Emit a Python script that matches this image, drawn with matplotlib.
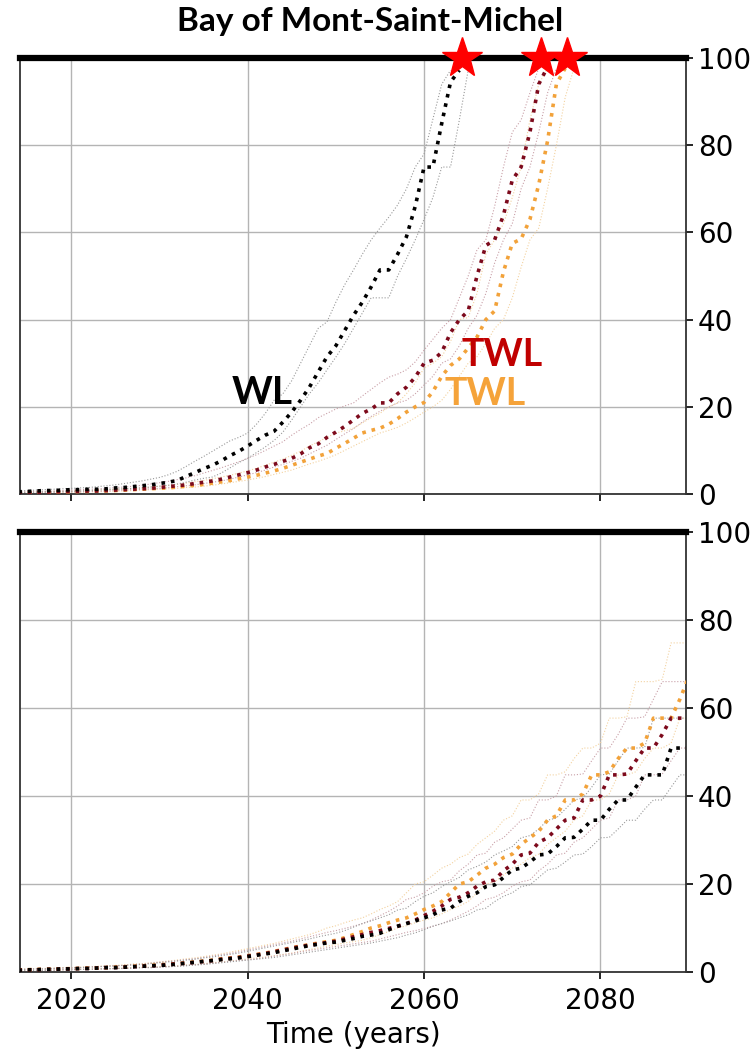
import numpy as np
import matplotlib
matplotlib.use("Agg")
import matplotlib.pyplot as plt

START_YEAR = 2014

# ---- top panel (yearly values from 2014) ----
top_wl_med = [0.5, 0.6, 0.7, 0.8, 0.8, 0.9,
              1.0, 1.0, 1.1, 1.1, 1.2, 1.4, 1.5, 1.7, 1.9, 2.1,
              2.4, 2.7, 3.1, 4.0, 4.9, 5.8, 6.6, 7.6, 8.8, 9.8,
              11.0, 12.3, 13.5, 14.4, 16.5, 18.8, 21.5, 24.5, 28.0, 31.5,
              34.0, 37.5, 41.0, 44.0, 47.5, 51.4, 51.4, 55.0, 59.0, 66.0,
              75.0, 75.0, 85.0, 94.5, 97.2]
top_wl_hi = [0.7, 0.8, 0.9, 1.0, 1.1, 1.2,
             1.3, 1.4, 1.5, 1.7, 1.9, 2.1, 2.4, 2.7, 3.0, 3.4,
             3.8, 4.4, 5.2, 6.3, 7.5, 8.6, 9.8, 11.0, 12.2, 13.0,
             14.0, 16.0, 18.5, 21.5, 23.0, 26.0, 30.0, 34.0, 38.0, 39.5,
             44.0, 48.0, 51.4, 55.0, 58.3, 61.0, 63.5, 66.3, 70.0, 75.0,
             78.0, 86.0, 94.0, 97.2]
top_wl_lo = [0.3, 0.4, 0.4, 0.5, 0.5, 0.6,
             0.6, 0.7, 0.8, 0.9, 1.0, 1.1, 1.2, 1.3, 1.4, 1.6,
             1.8, 2.0, 2.3, 2.7, 3.2, 3.6, 3.9, 4.8, 6.0, 7.2,
             8.2, 9.5, 10.8, 12.3, 14.2, 17.0, 20.0, 23.0, 25.5, 28.5,
             31.4, 34.5, 38.0, 41.5, 45.0, 45.0, 45.0, 50.0, 54.0, 58.3,
             63.0, 68.0, 75.0, 75.0, 85.8, 97.2]

top_red_med = [0.3, 0.3, 0.4, 0.4, 0.5, 0.5,
               0.6, 0.6, 0.7, 0.7, 0.8, 0.9, 1.0, 1.1, 1.2, 1.3,
               1.5, 1.7, 1.9, 2.1, 2.4, 2.7, 3.0, 3.4, 3.9, 4.4,
               4.9, 5.5, 6.2, 6.8, 7.5, 8.2, 9.2, 10.6, 11.5, 13.0,
               14.2, 15.5, 17.0, 18.5, 19.5, 20.9, 20.9, 23.0, 24.5, 26.8,
               30.0, 30.7, 32.5, 37.0, 40.0, 42.0, 50.0, 57.0, 58.3, 64.0,
               72.0, 75.0, 83.0, 94.0, 98.0]
top_red_hi = [0.5, 0.5, 0.6, 0.6, 0.7, 0.8,
              0.9, 1.0, 1.1, 1.2, 1.3, 1.5, 1.6, 1.8, 2.0, 2.3,
              2.6, 2.9, 3.3, 3.7, 4.2, 4.8, 5.4, 6.0, 6.7, 7.4,
              8.2, 9.0, 10.0, 11.0, 12.0, 13.5, 14.8, 16.0, 17.5, 18.5,
              19.5, 20.2, 20.9, 22.5, 24.0, 25.5, 26.8, 27.5, 28.5, 30.3,
              33.0, 35.5, 38.0, 40.0, 45.0, 50.0, 56.0, 58.3, 66.0, 75.0,
              83.0, 85.8, 92.0, 97.7]
top_red_lo = [0.2, 0.2, 0.3, 0.3, 0.4, 0.4,
              0.5, 0.5, 0.6, 0.6, 0.7, 0.8, 0.9, 1.0, 1.1, 1.2,
              1.3, 1.5, 1.7, 1.9, 2.1, 2.4, 2.7, 3.0, 3.4, 3.9,
              4.4, 4.9, 5.5, 6.2, 6.8, 7.5, 8.2, 9.2, 10.2, 11.2,
              12.5, 13.8, 15.0, 16.5, 17.8, 19.0, 20.0, 20.9, 21.5, 23.0,
              25.0, 27.0, 30.0, 31.0, 34.0, 38.0, 41.0, 46.0, 53.0, 58.3,
              62.0, 70.0, 75.0, 83.0, 92.0, 97.7]

top_org_med = [0.3, 0.3, 0.3, 0.4, 0.4, 0.5,
               0.5, 0.6, 0.6, 0.7, 0.7, 0.8, 0.9, 1.0, 1.1, 1.2,
               1.3, 1.4, 1.6, 1.8, 2.0, 2.2, 2.5, 2.8, 3.1, 3.5,
               3.9, 4.3, 4.8, 5.3, 5.9, 6.6, 7.3, 8.0, 8.7, 9.3,
               10.5, 11.6, 12.8, 14.0, 14.6, 15.1, 16.0, 17.3, 18.8, 20.0,
               21.0, 23.5, 27.0, 29.5, 31.0, 33.5, 36.0, 40.0, 42.0, 51.0,
               57.5, 58.5, 63.0, 71.0, 81.0, 94.0, 97.7]
top_org_hi = [0.4, 0.4, 0.5, 0.5, 0.6, 0.6,
              0.7, 0.7, 0.8, 0.9, 1.0, 1.1, 1.2, 1.3, 1.4, 1.6,
              1.8, 2.0, 2.2, 2.5, 2.8, 3.1, 3.5, 3.9, 4.3, 4.8,
              5.3, 5.9, 6.6, 7.3, 8.0, 8.9, 9.8, 11.0, 12.0, 13.0,
              14.0, 14.5, 15.1, 16.3, 17.5, 18.5, 20.0, 20.9, 23.0, 25.5,
              28.9, 30.0, 31.5, 35.0, 40.0, 40.5, 46.0, 55.0, 58.3, 62.0,
              68.0, 75.0, 85.8, 94.0, 97.7]
top_org_lo = [0.2, 0.2, 0.2, 0.3, 0.3, 0.3,
              0.4, 0.4, 0.5, 0.5, 0.6, 0.6, 0.7, 0.8, 0.9, 1.0,
              1.1, 1.2, 1.3, 1.5, 1.6, 1.8, 2.0, 2.3, 2.6, 2.9,
              3.2, 3.6, 4.0, 4.5, 5.0, 5.5, 6.2, 6.9, 7.5, 8.2,
              9.0, 10.0, 11.0, 12.0, 13.0, 14.0, 14.6, 15.3, 16.3, 17.5,
              18.8, 20.0, 21.5, 24.0, 27.0, 30.0, 31.5, 34.5, 38.0, 40.0,
              45.0, 52.0, 58.3, 61.0, 70.0, 80.0, 91.0, 97.7]

# year at which each median reaches 100 %
star_years = [2064.3, 2073.3, 2076.2]

# ---- bottom panel (yearly values 2014-2090) ----
bot_wl_med = [0.4, 0.5, 0.5, 0.6, 0.6, 0.7,
              0.7, 0.8, 0.8, 0.9, 1.0, 1.0, 1.1, 1.2, 1.3, 1.4,
              1.5, 1.6, 1.8, 2.0, 2.2, 2.4, 2.6, 2.8, 3.0, 3.2,
              3.5, 3.8, 4.1, 4.4, 4.8, 5.2, 5.6, 6.0, 6.3, 6.6,
              6.8, 7.2, 7.6, 8.1, 8.4, 8.8, 9.6, 10.4, 11.0, 11.6,
              12.3, 13.0, 14.1, 14.5, 16.0, 17.2, 18.0, 19.4, 19.8, 21.5,
              23.2, 23.6, 25.0, 26.6, 26.8, 28.5, 30.5, 30.6, 32.5, 34.5,
              34.5, 37.0, 39.1, 39.1, 42.0, 44.8, 44.8, 44.8, 50.9, 50.9, 50.9]
bot_wl_hi = [0.6, 0.6, 0.7, 0.7, 0.8, 0.9,
             0.9, 1.0, 1.1, 1.2, 1.3, 1.4, 1.5, 1.6, 1.7, 1.9,
             2.1, 2.3, 2.5, 2.7, 2.9, 3.2, 3.4, 3.7, 4.0, 4.3,
             4.7, 5.1, 5.5, 5.9, 6.3, 6.7, 7.1, 7.5, 8.0, 8.4,
             8.8, 9.4, 10.2, 11.0, 11.6, 12.3, 13.0, 14.1, 14.5, 16.0,
             17.2, 18.0, 19.4, 20.5, 21.5, 23.2, 24.0, 25.0, 26.6, 27.5,
             28.5, 30.5, 31.0, 32.5, 34.5, 35.0, 37.0, 39.1, 39.5, 42.0,
             44.8, 45.0, 48.0, 50.9, 50.9, 51.0, 57.7, 57.7, 57.7, 57.7, 57.7]
bot_wl_lo = [0.2, 0.3, 0.3, 0.4, 0.4, 0.5,
             0.5, 0.6, 0.6, 0.7, 0.7, 0.8, 0.8, 0.9, 1.0, 1.0,
             1.1, 1.2, 1.3, 1.4, 1.6, 1.7, 1.9, 2.1, 2.3, 2.5,
             2.7, 2.9, 3.1, 3.3, 3.6, 3.9, 4.2, 4.5, 4.8, 5.1,
             5.4, 5.7, 6.0, 6.3, 6.6, 7.0, 7.4, 7.8, 8.4, 8.9,
             9.6, 10.4, 11.0, 11.6, 12.3, 13.0, 14.1, 14.5, 16.0, 17.2,
             18.0, 19.4, 19.8, 21.5, 23.2, 23.6, 25.0, 26.6, 26.8, 28.5,
             30.5, 30.6, 32.5, 34.5, 34.5, 37.0, 39.1, 39.1, 42.0, 44.8, 44.8]

bot_red_med = [0.4, 0.5, 0.5, 0.6, 0.6, 0.7,
               0.7, 0.8, 0.8, 0.9, 1.0, 1.0, 1.1, 1.2, 1.3, 1.4,
               1.5, 1.7, 1.9, 2.0, 2.2, 2.4, 2.6, 2.9, 3.1, 3.3,
               3.6, 3.9, 4.2, 4.6, 5.0, 5.4, 5.8, 6.1, 6.4, 6.7,
               7.0, 7.5, 8.0, 8.5, 9.0, 9.4, 9.9, 10.4, 11.0, 11.8,
               12.8, 13.8, 15.0, 16.5, 17.0, 18.0, 19.5, 20.5, 20.9, 23.0,
               24.5, 26.6, 27.0, 29.5, 30.5, 32.5, 34.5, 35.0, 39.1, 39.1,
               40.0, 44.8, 44.8, 45.0, 48.0, 50.9, 50.9, 54.0, 57.7, 57.7, 57.7]
bot_red_hi = [0.6, 0.6, 0.7, 0.7, 0.8, 0.9,
              0.9, 1.0, 1.1, 1.2, 1.3, 1.4, 1.5, 1.7, 1.8, 2.0,
              2.2, 2.4, 2.6, 2.8, 3.0, 3.3, 3.6, 3.9, 4.2, 4.6,
              5.0, 5.4, 5.8, 6.2, 6.6, 7.0, 7.5, 8.0, 8.5, 9.0,
              9.4, 9.9, 10.4, 11.0, 11.8, 12.8, 13.8, 15.0, 16.5, 17.0,
              18.0, 19.5, 20.5, 20.9, 23.0, 24.5, 26.6, 27.0, 29.5, 30.5,
              32.5, 34.5, 35.0, 39.1, 39.1, 40.0, 44.8, 44.8, 45.0, 48.0,
              50.9, 50.9, 54.0, 57.7, 57.7, 58.0, 62.0, 66.0, 66.0, 66.0, 66.0]
bot_red_lo = [0.2, 0.3, 0.3, 0.4, 0.4, 0.5,
              0.5, 0.6, 0.6, 0.7, 0.7, 0.8, 0.8, 0.9, 1.0, 1.0,
              1.1, 1.2, 1.3, 1.5, 1.6, 1.8, 2.0, 2.2, 2.4, 2.6,
              2.8, 3.0, 3.3, 3.6, 3.9, 4.2, 4.6, 4.9, 5.2, 5.5,
              5.8, 6.1, 6.4, 6.7, 7.0, 7.5, 8.0, 8.5, 9.0, 9.4,
              9.9, 10.4, 11.0, 11.8, 12.8, 13.8, 15.0, 16.5, 17.0, 18.0,
              19.5, 20.5, 20.9, 23.0, 24.5, 26.6, 27.0, 29.5, 30.5, 32.5,
              34.5, 35.0, 39.1, 39.1, 40.0, 44.8, 44.8, 45.0, 48.0, 50.9, 50.9]

bot_org_med = [0.5, 0.5, 0.6, 0.6, 0.7, 0.7,
               0.8, 0.8, 0.9, 0.9, 1.0, 1.1, 1.2, 1.3, 1.4, 1.5,
               1.6, 1.8, 1.9, 2.1, 2.3, 2.5, 2.7, 3.0, 3.2, 3.4,
               3.7, 4.0, 4.3, 4.7, 5.1, 5.5, 5.9, 6.2, 6.6, 6.9,
               7.2, 7.8, 8.5, 9.2, 10.0, 10.5, 11.2, 11.8, 12.3, 13.2,
               14.2, 15.0, 16.0, 18.0, 20.0, 20.5, 22.0, 23.6, 24.5, 26.0,
               26.8, 29.0, 30.5, 32.0, 34.5, 35.5, 39.1, 39.1, 40.5, 44.8,
               44.8, 45.5, 48.5, 50.9, 50.9, 52.0, 57.7, 57.7, 57.7, 62.0, 67.0]
bot_org_hi = [0.7, 0.7, 0.8, 0.8, 0.9, 1.0,
              1.0, 1.1, 1.2, 1.3, 1.4, 1.5, 1.6, 1.8, 1.9, 2.1,
              2.3, 2.5, 2.7, 3.0, 3.2, 3.5, 3.8, 4.1, 4.5, 4.9,
              5.3, 5.7, 6.1, 6.5, 7.0, 7.5, 8.0, 8.5, 9.2, 10.0,
              10.5, 11.2, 11.8, 12.3, 13.2, 14.2, 15.0, 16.0, 18.0, 20.0,
              20.5, 22.0, 23.6, 24.5, 26.0, 26.8, 29.0, 30.5, 32.0, 34.5,
              35.5, 39.1, 39.1, 40.5, 44.8, 44.8, 45.5, 48.5, 50.9, 50.9,
              52.0, 57.7, 57.7, 58.0, 66.0, 66.0, 66.0, 66.5, 74.8, 74.8, 74.8]
bot_org_lo = [0.3, 0.3, 0.4, 0.4, 0.5, 0.5,
              0.6, 0.6, 0.7, 0.7, 0.8, 0.8, 0.9, 1.0, 1.1, 1.1,
              1.2, 1.3, 1.4, 1.6, 1.7, 1.9, 2.1, 2.3, 2.5, 2.7,
              3.0, 3.2, 3.4, 3.7, 4.0, 4.3, 4.7, 5.1, 5.5, 5.9,
              6.2, 6.6, 6.9, 7.2, 7.8, 8.5, 9.2, 10.0, 10.5, 11.2,
              11.8, 12.3, 13.2, 14.2, 15.0, 16.0, 18.0, 20.0, 20.5, 22.0,
              23.6, 24.5, 26.0, 26.8, 29.0, 30.5, 32.0, 34.5, 35.5, 39.1,
              39.1, 40.5, 44.8, 44.8, 45.5, 48.5, 50.9, 50.9, 52.0, 57.7, 57.7]

COLORS = {"wl": "#000000", "red": "#7d0a1c", "org": "#f2a23a"}
ENV_COLORS = {"wl": "#999999", "red": "#c9a0a8", "org": "#f3d2a0"}


def years_for(values):
    return np.arange(START_YEAR, START_YEAR + len(values))


def draw_panel(ax, curves):
    for key, med, hi, lo in curves:
        for env in (hi, lo):
            ax.plot(years_for(env), env, linestyle=":", linewidth=0.8,
                    color=ENV_COLORS[key], zorder=2)
    for key, med, hi, lo in curves:
        ax.plot(years_for(med), med, linestyle=":", linewidth=2.6,
                color=COLORS[key], zorder=3)

    ax.axhline(100, color="black", linewidth=4.5, zorder=5, clip_on=False)
    ax.set_xlim(2014.2, 2089.7)
    ax.set_ylim(0, 100)
    ax.set_xticks([2020, 2040, 2060, 2080])
    ax.set_yticks([0, 20, 40, 60, 80, 100])
    ax.yaxis.tick_right()
    ax.grid(True, color="#b4b4b4", linewidth=1.0)
    ax.set_axisbelow(True)
    ax.spines["top"].set_visible(False)
    for side in ("left", "right", "bottom"):
        ax.spines[side].set_linewidth(1.3)
        ax.spines[side].set_color("#333333")
    ax.tick_params(axis="both", labelsize=20, length=5, width=1.2)
    ax.tick_params(axis="x", pad=6)


def main():
    fig = plt.figure(figsize=(7.56, 10.5), dpi=100)
    ax_top = fig.add_axes([0.0265, 0.5295, 0.881, 0.4152])
    ax_bot = fig.add_axes([0.0265, 0.0743, 0.881, 0.419])

    draw_panel(ax_top, [("org", top_org_med, top_org_hi, top_org_lo),
                        ("red", top_red_med, top_red_hi, top_red_lo),
                        ("wl", top_wl_med, top_wl_hi, top_wl_lo)])
    draw_panel(ax_bot, [("org", bot_org_med, bot_org_hi, bot_org_lo),
                        ("red", bot_red_med, bot_red_hi, bot_red_lo),
                        ("wl", bot_wl_med, bot_wl_hi, bot_wl_lo)])

    ax_top.tick_params(axis="x", labelbottom=False)
    ax_top.plot(star_years, [100] * len(star_years), linestyle="none",
                marker="*", markersize=30, color="red", zorder=6, clip_on=False)

    label_font = dict(family=["Lato", "DejaVu Sans"], fontweight="bold")
    ax_top.text(2041.6, 23.4, "WL", color="black", fontsize=28,
                ha="center", va="center", **label_font)
    ax_top.text(2068.8, 32.0, "TWL", color="#c00000", fontsize=27,
                ha="center", va="center", **label_font)
    ax_top.text(2066.9, 23.0, "TWL", color="#f5a33a", fontsize=27,
                ha="center", va="center", **label_font)

    fig.text(0.49, 0.980, "Bay of Mont-Saint-Michel", fontsize=24,
             ha="center", va="center", **label_font)

    ax_bot.set_xlabel("Time (years)", fontsize=20, labelpad=4)

    fig.savefig("out.png", dpi=100)


if __name__ == "__main__":
    main()
